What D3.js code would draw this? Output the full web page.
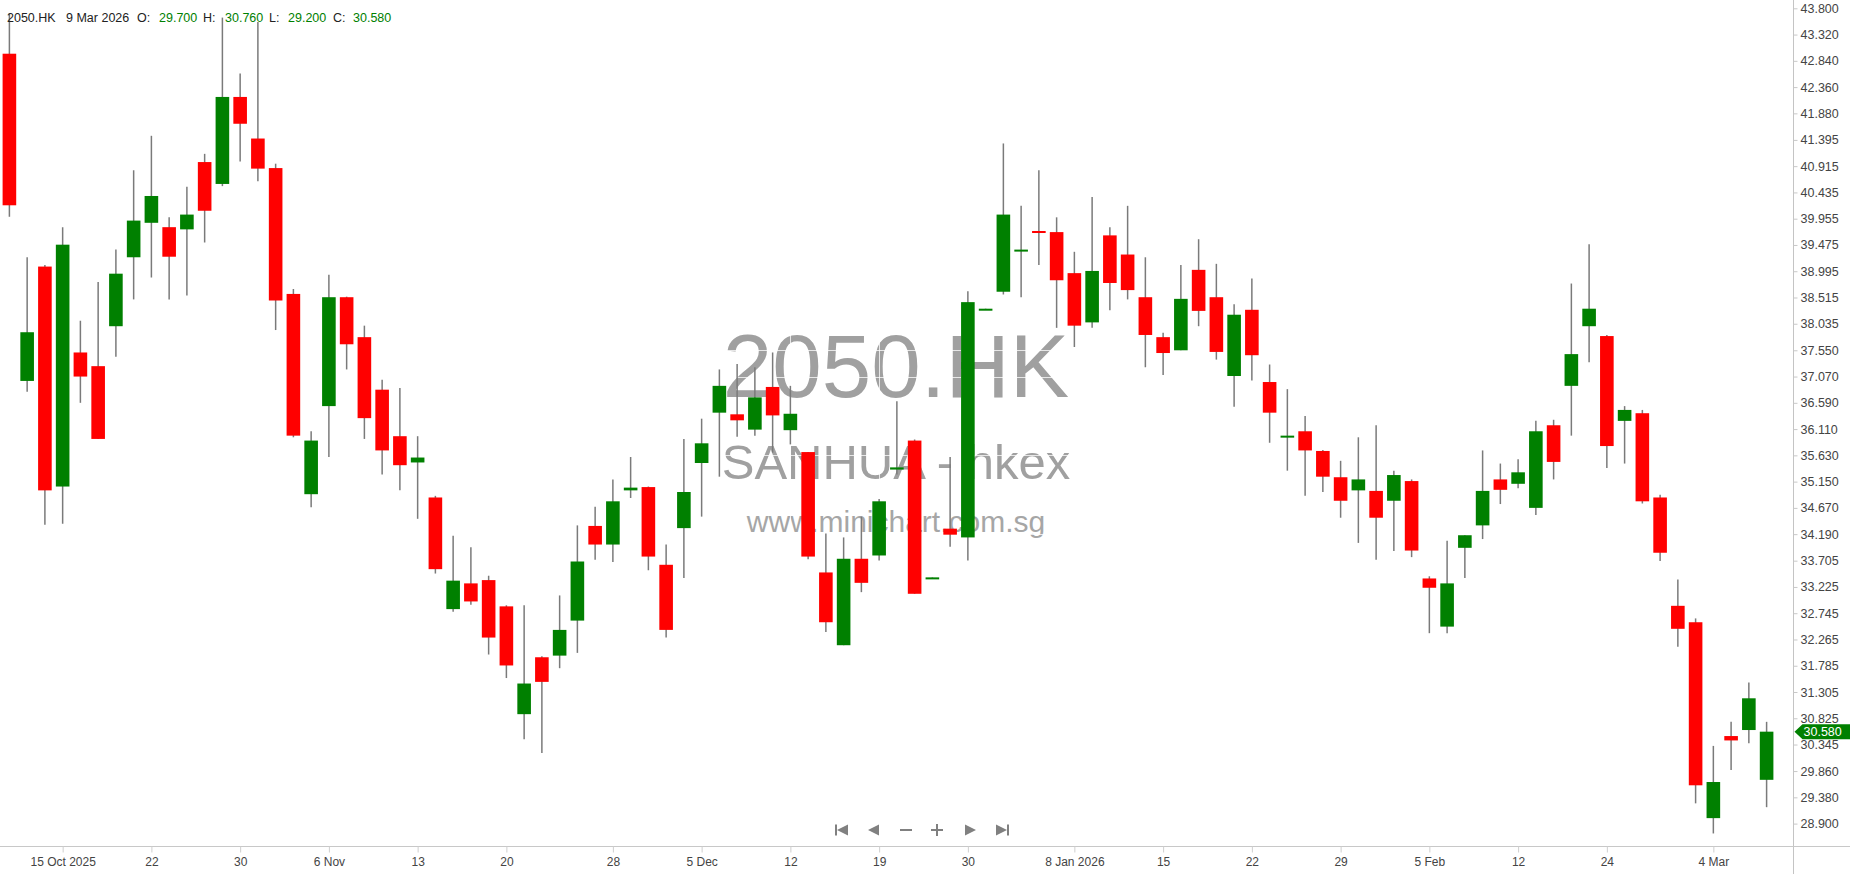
<!DOCTYPE html>
<html>
<head>
<meta charset="utf-8">
<script src="https://cdn.jsdelivr.net/npm/d3@7/dist/d3.min.js"></script>
<style>
  html, body { margin: 0; padding: 0; background: #fff; }
  svg { display: block; font-family: "Liberation Sans", Arial, sans-serif; }
</style>
</head>
<body>
<svg id="chart" width="1850" height="874"></svg>
<script>
// ---------------- DATA ----------------
const symbol = "2050.HK";
const watermarkTitle = "2050.HK";
const watermarkSub = "SANHUA - hkex";
const watermarkUrl = "www.minichart.com.sg";

const dates = [
  "2025-10-10","2025-10-13","2025-10-14","2025-10-15","2025-10-16","2025-10-17","2025-10-20","2025-10-21","2025-10-22","2025-10-23",
  "2025-10-24","2025-10-27","2025-10-28","2025-10-30","2025-10-31","2025-11-03","2025-11-04","2025-11-05","2025-11-06","2025-11-07",
  "2025-11-10","2025-11-11","2025-11-12","2025-11-13","2025-11-14","2025-11-17","2025-11-18","2025-11-19","2025-11-20","2025-11-21",
  "2025-11-24","2025-11-25","2025-11-26","2025-11-27","2025-11-28","2025-12-01","2025-12-02","2025-12-03","2025-12-04","2025-12-05",
  "2025-12-08","2025-12-09","2025-12-10","2025-12-11","2025-12-12","2025-12-15","2025-12-16","2025-12-17","2025-12-18","2025-12-19",
  "2025-12-22","2025-12-23","2025-12-24","2025-12-29","2025-12-30","2025-12-31","2026-01-02","2026-01-05","2026-01-06","2026-01-07",
  "2026-01-08","2026-01-09","2026-01-12","2026-01-13","2026-01-14","2026-01-15","2026-01-16","2026-01-19","2026-01-20","2026-01-21",
  "2026-01-22","2026-01-23","2026-01-26","2026-01-27","2026-01-28","2026-01-29","2026-01-30","2026-02-02","2026-02-03","2026-02-04",
  "2026-02-05","2026-02-06","2026-02-09","2026-02-10","2026-02-11","2026-02-12","2026-02-13","2026-02-16","2026-02-20","2026-02-23",
  "2026-02-24","2026-02-25","2026-02-26","2026-02-27","2026-03-02","2026-03-03","2026-03-04","2026-03-05","2026-03-06","2026-03-09"
];
const open = [
  42.97,36.99,39.08,35.06,37.51,37.26,37.99,39.25,39.88,39.80,
  39.76,40.99,40.59,42.18,41.42,40.88,38.58,34.92,36.53,38.52,
  37.79,36.83,35.98,35.50,34.86,32.82,33.29,33.35,32.87,30.90,
  31.94,31.97,32.61,34.34,34.00,34.99,35.05,33.63,34.30,35.49,
  36.41,36.38,36.10,36.88,36.09,35.69,33.49,32.16,33.74,33.80,
  35.37,35.90,33.39,34.29,34.13,38.30,38.62,39.38,39.73,39.71,
  38.96,38.06,39.65,39.30,38.52,37.79,37.55,39.02,38.52,37.08,
  38.29,36.97,35.98,36.07,35.71,35.23,34.99,34.98,34.80,35.16,
  33.38,32.50,33.94,34.35,35.19,35.11,34.67,36.18,36.90,37.99,
  37.81,36.26,36.40,34.86,32.88,32.58,29.00,30.50,30.61,29.70
];
const high = [
  43.71,39.25,39.11,39.80,38.09,38.80,39.39,40.84,41.47,39.98,
  40.54,41.14,43.63,42.61,43.55,40.96,38.67,36.07,38.93,38.53,
  38.00,37.01,36.86,35.98,34.89,34.16,33.95,33.43,32.89,32.89,
  31.96,33.07,34.35,34.69,35.19,35.60,35.06,34.00,35.93,36.30,
  37.20,37.30,37.24,37.51,36.90,35.69,34.20,34.13,34.51,34.83,
  36.62,35.92,33.40,35.60,38.63,38.31,41.33,40.19,40.84,39.98,
  39.35,40.35,39.80,40.19,39.25,37.87,39.11,39.58,39.13,38.39,
  38.86,37.29,36.84,36.35,35.73,35.53,35.96,36.18,35.35,35.19,
  33.42,34.07,34.17,35.72,35.48,35.56,36.26,36.28,38.77,39.49,
  37.83,36.53,36.46,34.91,33.36,32.65,30.32,30.76,31.48,30.76
];
const low = [
  39.99,36.79,34.36,34.38,36.59,35.93,37.43,38.48,38.88,38.48,
  38.55,39.52,40.55,41.00,40.64,37.92,35.96,34.68,35.60,37.20,
  35.93,35.28,34.99,34.47,33.47,32.77,32.90,31.99,31.56,30.44,
  30.19,31.74,32.02,33.72,33.68,34.85,33.53,32.30,33.39,34.51,
  35.24,35.97,35.99,35.68,35.83,33.73,32.40,32.16,33.13,33.71,
  35.28,33.10,33.39,33.96,33.71,38.30,38.57,38.52,39.11,37.96,
  37.61,37.96,38.28,38.48,37.24,37.10,37.55,37.99,37.38,36.52,
  37.00,35.86,35.35,34.89,34.96,34.49,34.03,33.72,33.88,33.77,
  32.38,32.38,33.39,34.10,34.74,35.03,34.54,35.19,35.99,37.33,
  35.40,35.48,34.75,33.70,32.13,29.27,28.72,29.88,30.37,29.20
];
const close = [
  40.20,37.88,34.99,39.48,37.07,35.93,38.95,39.92,40.37,39.26,
  40.03,40.10,42.18,41.69,40.87,38.46,35.99,35.90,38.52,37.66,
  36.31,35.72,35.45,35.59,33.55,33.34,32.96,32.30,31.79,31.46,
  31.49,32.44,33.69,34.00,34.79,35.04,33.78,32.44,34.96,35.85,
  36.90,36.27,36.69,36.36,36.39,33.78,32.58,33.74,33.30,34.79,
  35.41,33.10,33.40,34.18,38.43,38.31,40.03,39.39,39.72,38.83,
  38.00,39.00,38.78,38.65,37.83,37.50,38.49,38.27,37.52,38.20,
  37.46,36.41,35.99,35.72,35.24,34.80,35.19,34.49,35.27,33.89,
  33.21,33.29,34.17,34.98,35.00,35.32,36.07,35.51,37.48,38.31,
  35.80,36.46,34.79,33.85,32.46,29.60,29.66,30.42,31.19,30.58
];
const lastBar = { date: "9 Mar 2026", o: "29.700", h: "30.760", l: "29.200", c: "30.580" };

const xTickDates = ["2025-10-15","2025-10-22","2025-10-30","2025-11-06","2025-11-13","2025-11-20","2025-11-28","2025-12-05","2025-12-12","2025-12-19",
  "2025-12-30","2026-01-08","2026-01-15","2026-01-22","2026-01-29","2026-02-05","2026-02-12","2026-02-24","2026-03-04"];
const xTickLabels = ["15 Oct 2025","22","30","6 Nov","13","20","28","5 Dec","12","19",
  "30","8 Jan 2026","15","22","29","5 Feb","12","24","4 Mar"];
const yTickLabels = ["43.800","43.320","42.840","42.360","41.880","41.395","40.915","40.435","39.955","39.475",
  "38.995","38.515","38.035","37.550","37.070","36.590","36.110","35.630","35.150","34.670",
  "34.190","33.705","33.225","32.745","32.265","31.785","31.305","30.825","30.345","29.860","29.380","28.900"];

// ---------------- CHART ----------------
const W = 1850, H = 874;
const plotRight = 1793.5, axisY = 846.5;
const UP = "#008000", DOWN = "#ff0000", WICK = "#7a7a7a";

const svg = d3.select("#chart");
const x = d3.scalePoint().domain(dates).range([9.4, 1766.6]);
const y = d3.scaleLinear().domain([28.9, 43.8]).range([823.6, 8.3]);
const bodyW = 13.6;

// watermark
const wm = svg.append("g").attr("fill", "#a0a0a0").attr("text-anchor", "middle");
const cx = 896;
wm.append("text").attr("x", cx).attr("y", 397).attr("font-size", 89).text(watermarkTitle);
wm.append("text").attr("x", cx).attr("y", 479).attr("font-size", 49).text(watermarkSub);
wm.append("text").attr("x", cx).attr("y", 532).attr("font-size", 30).attr("fill", "#a6a6a6").text(watermarkUrl);

// gridlines (white, over watermark)
const yVals = yTickLabels.map(Number);
const grid = svg.append("g").attr("stroke", "#ffffff").attr("stroke-opacity", 0.75).attr("stroke-width", 1);
grid.selectAll("line.h").data(yVals).join("line")
  .attr("x1", 0).attr("x2", plotRight).attr("y1", d => Math.round(y(d)) + 0.5).attr("y2", d => Math.round(y(d)) + 0.5);
grid.selectAll("line.v").data(xTickDates).join("line")
  .attr("y1", 0).attr("y2", axisY).attr("x1", d => Math.round(x(d)) + 0.5).attr("x2", d => Math.round(x(d)) + 0.5);

// candles
const idx = d3.range(dates.length);
const candles = svg.append("g");
candles.selectAll("line.wick").data(idx).join("line")
  .attr("x1", i => x(dates[i])).attr("x2", i => x(dates[i]))
  .attr("y1", i => y(high[i])).attr("y2", i => y(low[i]))
  .attr("stroke", WICK).attr("stroke-width", 1.5);
candles.selectAll("rect.body").data(idx).join("rect")
  .attr("x", i => x(dates[i]) - bodyW / 2)
  .attr("width", bodyW)
  .attr("y", i => Math.min(y(open[i]), y(close[i])))
  .attr("height", i => Math.max(2, Math.abs(y(open[i]) - y(close[i]))))
  .attr("fill", i => close[i] >= open[i] ? UP : DOWN);

// right axis
svg.append("line").attr("x1", plotRight).attr("x2", plotRight).attr("y1", 0).attr("y2", H)
  .attr("stroke", "#c4c4c4").attr("stroke-width", 1);
const ya = svg.append("g").attr("transform", `translate(${plotRight},0)`)
  .call(d3.axisRight(y).tickValues(yVals).tickFormat((d, i) => yTickLabels[i]).tickSize(4).tickPadding(3));
ya.select(".domain").remove();
ya.selectAll(".tick line").attr("stroke", "#c8c8c8");
ya.selectAll(".tick text").attr("fill", "#444").attr("font-size", 12.5).attr("font-family", "Liberation Sans, Arial, sans-serif");

// bottom axis
svg.append("line").attr("x1", 0).attr("x2", W).attr("y1", axisY).attr("y2", axisY)
  .attr("stroke", "#c8c8c8").attr("stroke-width", 1);
const xa = svg.append("g").attr("transform", `translate(0,${axisY})`)
  .call(d3.axisBottom(x).tickValues(xTickDates).tickFormat((d, i) => xTickLabels[i]).tickSize(6).tickPadding(5));
xa.select(".domain").remove();
xa.selectAll(".tick line").attr("stroke", "#cfcfcf");
xa.selectAll(".tick text").attr("fill", "#444").attr("font-size", 12).attr("font-family", "Liberation Sans, Arial, sans-serif");

// last price label
const ly = y(+lastBar.c);
svg.append("path")
  .attr("d", `M${plotRight + 1},${ly} L${plotRight + 9},${ly - 7.5} L${W},${ly - 7.5} L${W},${ly + 7.5} L${plotRight + 9},${ly + 7.5} Z`)
  .attr("fill", UP);
svg.append("text").attr("x", plotRight + 10).attr("y", ly).attr("dy", "0.35em")
  .attr("fill", "#fff").attr("font-size", 12.5).text(lastBar.c);

// header
const hdr = svg.append("g").attr("font-size", 12.5);
const items = [
  [7, symbol, "#222"], [66, lastBar.date, "#222"],
  [137, "O:", "#222"], [159, lastBar.o, UP],
  [203, "H:", "#222"], [225, lastBar.h, UP],
  [269, "L:", "#222"], [288, lastBar.l, UP],
  [333, "C:", "#222"], [353, lastBar.c, UP]
];
hdr.selectAll("text").data(items).join("text")
  .attr("x", d => d[0]).attr("y", 22).attr("fill", d => d[2]).text(d => d[1]);

// navigation icons
const nav = svg.append("g").attr("fill", "#808080").attr("stroke", "none");
const ny = 830;
// first
nav.append("rect").attr("x", 835).attr("y", ny - 5.5).attr("width", 2).attr("height", 11);
nav.append("path").attr("d", `M837,${ny} L848,${ny - 5.5} L848,${ny + 5.5} Z`);
// prev
nav.append("path").attr("d", `M868,${ny} L879,${ny - 5.5} L879,${ny + 5.5} Z`);
// minus
nav.append("rect").attr("x", 900).attr("y", ny - 1).attr("width", 12).attr("height", 2);
// plus
nav.append("rect").attr("x", 931).attr("y", ny - 1).attr("width", 12).attr("height", 2);
nav.append("rect").attr("x", 936).attr("y", ny - 6).attr("width", 2).attr("height", 12);
// next
nav.append("path").attr("d", `M976,${ny} L965,${ny - 5.5} L965,${ny + 5.5} Z`);
// last
nav.append("path").attr("d", `M1007,${ny} L996,${ny - 5.5} L996,${ny + 5.5} Z`);
nav.append("rect").attr("x", 1007).attr("y", ny - 5.5).attr("width", 2).attr("height", 11);
</script>
</body>
</html>
